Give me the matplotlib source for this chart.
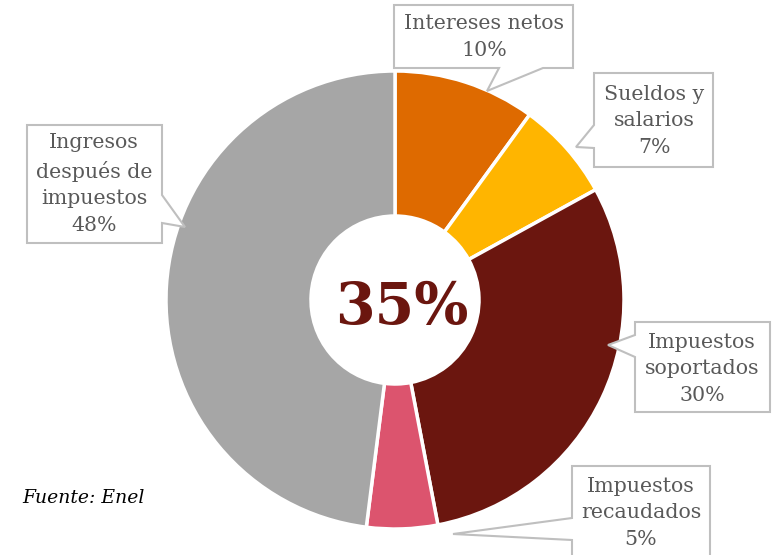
import matplotlib
matplotlib.use("Agg")
import matplotlib.pyplot as plt
from matplotlib.patches import Polygon

# ---- data ----
categories = ["Intereses netos", "Sueldos y\nsalarios", "Impuestos\nsoportados",
              "Impuestos\nrecaudados", "Ingresos\ndespués de\nimpuestos"]
values = [10, 7, 30, 5, 48]
colors = ["#DE6A00", "#FFB500", "#6B160F", "#DC546E", "#A6A6A6"]
center_label = "35%"
source = "Fuente: Enel"

W, H = 780, 555
fig = plt.figure(figsize=(W / 100, H / 100), dpi=100)
ax = fig.add_axes([0, 0, 1, 1])

def Y(y):
    return H - y

cx, cy, R, r_in = 395, 300, 229, 84
ax.pie(values, colors=colors, startangle=90, counterclock=False,
       center=(cx, Y(cy)), radius=R, frame=True,
       wedgeprops=dict(width=R - r_in, edgecolor="white", linewidth=2.5))
ax.set_xlim(0, W)
ax.set_ylim(0, H)
ax.set_aspect("equal")
ax.axis("off")

ax.text(cx + 7, Y(308), center_label, ha="center", va="center",
        fontsize=41, fontweight="bold", family="DejaVu Serif", color="#6B160F")

# callout boxes (image pixel coords)
boxes = [
    [(394, 5), (573, 5), (573, 68), (543, 68), (487, 91), (499, 68), (394, 68)],
    [(594, 73), (713, 73), (713, 167), (594, 167), (594, 148), (576, 147), (594, 125)],
    [(635, 322), (770, 322), (770, 412), (635, 412), (635, 357), (608, 345), (635, 335)],
    [(572, 466), (710, 466), (710, 575), (572, 575), (572, 540), (453, 534), (572, 518)],
    [(27, 125), (162, 125), (162, 195), (185, 227), (162, 223), (162, 243), (27, 243)],
]
text_pos = [(484, 37), (654, 121), (702, 369), (641, 513), (94, 184)]

for poly, (tx, ty), cat, v in zip(boxes, text_pos, categories, values):
    pts = [(x, Y(y)) for x, y in poly]
    ax.add_patch(Polygon(pts, closed=True, facecolor="white",
                         edgecolor="#BFBFBF", linewidth=1.5, zorder=3))
    ax.text(tx, Y(ty), f"{cat}\n{v}%", ha="center", va="center",
            fontsize=14.8, family="DejaVu Serif", color="#595959",
            linespacing=1.5, zorder=4)

ax.text(22, Y(498), source, ha="left", va="center", fontsize=13.5,
        family="DejaVu Serif", style="italic", color="black")

fig.savefig("out.png", dpi=100)
